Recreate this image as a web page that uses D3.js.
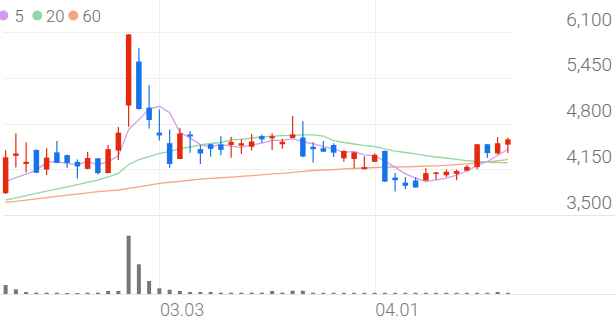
<!DOCTYPE html>
<html>
<head>
<meta charset="utf-8">
<script src="https://cdn.jsdelivr.net/npm/d3@7"></script>
<style>
  html, body { margin: 0; padding: 0; background: #fff; }
  #chart { width: 616px; height: 321px; }
  svg { display: block; font-family: Roboto, "Noto Sans", sans-serif; }
</style>
</head>
<body>
<div id="chart"></div>
<script>
// Trading days shown
const dates = [
  "02.10", "02.11", "02.12", "02.13", "02.14",
  "02.17", "02.18", "02.19", "02.20", "02.21",
  "02.24", "02.25", "02.26", "02.27", "02.28",
  "03.03", "03.04", "03.05", "03.06", "03.07",
  "03.10", "03.11", "03.12", "03.13", "03.14",
  "03.17", "03.18", "03.19", "03.20", "03.21",
  "03.24", "03.25", "03.26", "03.27", "03.28",
  "03.31", "04.01", "04.02", "04.03", "04.04",
  "04.07", "04.08", "04.09", "04.10", "04.11",
  "04.14", "04.15", "04.16", "04.17", "04.18"
];

const openPrices = [
  3810, 4340, 4225, 4425, 4145, 4390, 4350, 4255, 4155, 4305,
  4095, 4415, 5055, 5680, 5025, 4670, 4520, 4295, 4645, 4435,
  4505, 4500, 4495, 4485, 4470, 4620, 4590, 4505, 4595, 4600,
  4470, 4450, 4495, 4305, 4295, 4150, 4255, 4410, 4030, 3960,
  3990, 3990, 4085, 4065, 4085, 4130, 4180, 4505, 4375, 4500
];
const highPrices = [
  4420, 4660, 4535, 4430, 4450, 4550, 4360, 4290, 4400, 4310,
  4495, 4750, 6070, 5870, 5345, 5000, 4715, 4740, 4695, 4495,
  4510, 4620, 4610, 4575, 4650, 4645, 4660, 4585, 4905, 4835,
  4535, 4550, 4520, 4415, 4395, 4335, 4375, 4415, 4095, 4040,
  4035, 4165, 4110, 4145, 4145, 4210, 4510, 4510, 4605, 4600
];
const lowPrices = [
  3800, 4175, 4105, 4095, 4070, 4235, 4170, 4020, 4150, 4075,
  4095, 4280, 4755, 5000, 4730, 4560, 4170, 4295, 4385, 4225,
  4330, 4350, 4315, 4365, 4415, 4525, 4425, 4440, 4595, 4325,
  4245, 4395, 4325, 4255, 4165, 4150, 4255, 3970, 3835, 3870,
  3890, 3985, 4000, 4040, 3995, 4130, 4150, 4310, 4360, 4380
];
const closePrices = [
  4320, 4375, 4255, 4100, 4315, 4240, 4240, 4190, 4310, 4095,
  4435, 4670, 6065, 5005, 4850, 4630, 4225, 4660, 4615, 4375,
  4440, 4425, 4540, 4520, 4545, 4575, 4620, 4540, 4645, 4330,
  4435, 4400, 4385, 4410, 4390, 4180, 4355, 3975, 3995, 3915,
  3890, 4095, 4105, 4115, 4125, 4185, 4505, 4380, 4520, 4575
];

// Volume, thousand shares
const volumes = [
  900, 470, 200, 130, 130, 130, 100, 100, 130, 130,
  300, 300, 5830, 2970, 1300, 570, 430, 300, 200, 200,
  200, 130, 130, 130, 130, 130, 300, 130, 330, 330,
  130, 120, 120, 120, 120, 120, 120, 120, 120, 120,
  120, 120, 120, 120, 120, 120, 120, 120, 200, 120
];

// Moving averages
const ma5 = [
  3975, 4030, 4080, 4135, 4250, 4260, 4230, 4215, 4260, 4215,
  4255, 4340, 4715, 4855, 5005, 5045, 4955, 4675, 4595, 4500,
  4465, 4505, 4480, 4460, 4495, 4520, 4560, 4560, 4585, 4540,
  4515, 4470, 4440, 4390, 4405, 4355, 4345, 4260, 4180, 4085,
  4025, 3975, 4000, 4025, 4065, 4125, 4205, 4260, 4345, 4435
];
const ma20 = [
  3713, 3744, 3776, 3807, 3838, 3869, 3901, 3932, 3963, 3994,
  4040, 4090, 4217, 4286, 4331, 4377, 4399, 4445, 4466, 4495,
  4516, 4530, 4566, 4573, 4594, 4608, 4622, 4627, 4632, 4637,
  4637, 4622, 4558, 4530, 4509, 4487, 4473, 4438, 4409, 4388,
  4367, 4345, 4324, 4310, 4291, 4274, 4260, 4253, 4246, 4243
];
const ma60 = [
  3678, 3695, 3712, 3729, 3746, 3764, 3781, 3798, 3815, 3832,
  3844, 3855, 3879, 3901, 3926, 3950, 3965, 3979, 3994, 4009,
  4020, 4029, 4038, 4048, 4060, 4071, 4083, 4092, 4105, 4119,
  4132, 4139, 4146, 4154, 4161, 4168, 4175, 4179, 4182, 4185,
  4189, 4193, 4199, 4206, 4215, 4225, 4239, 4253, 4270, 4289
];

const priceTicks = [3500, 4150, 4800, 5450, 6100];
const dateTicks = ["03.03", "04.01"];
const legendLabels = ["5", "20", "60"];

class CandleChart
{
  constructor(iHostElement)
  {
    this.width = 616;
    this.height = 321;
    this.upColor = "#e42a0c";
    this.downColor = "#1673ec";
    this.maColors = ["#d59cee", "#90d9a2", "#f8a680"];

    this.svg = d3.select(iHostElement)
      .append("svg")
      .attr("width", this.width)
      .attr("height", this.height);

    // Scales
    this.x = d3.scaleBand().domain(dates).range([0.5, 513]).padding(0);
    this.y = d3.scaleLinear().domain([3500, 6100]).range([215, 32]);
    this.yVol = d3.scaleLinear().domain([0, 6000]).range([294, 234]);

    this.rows = dates.map((d, i) => ({
      date: d, open: openPrices[i], high: highPrices[i], low: lowPrices[i],
      close: closePrices[i], volume: volumes[i]
    }));
  }

  cx(d) { return this.x(d) + this.x.bandwidth() / 2; }

  drawGrid()
  {
    const g = this.svg.append("g").attr("class", "grid");

    g.selectAll(".hline").data(priceTicks).enter()
      .append("line")
      .attr("x1", 3)
      .attr("x2", d => d === priceTicks[0] ? this.width : 513)
      .attr("y1", d => Math.round(this.y(d)) + 0.5)
      .attr("y2", d => Math.round(this.y(d)) + 0.5)
      .attr("stroke", d => d === priceTicks[0] ? "#e6e6e6" : "#efefef")
      .attr("stroke-width", 1);

    g.selectAll(".vline").data(dateTicks).enter()
      .append("line")
      .attr("x1", d => Math.round(this.cx(d)) + 0.5)
      .attr("x2", d => Math.round(this.cx(d)) + 0.5)
      .attr("y1", 0)
      .attr("y2", 294)
      .attr("stroke", "#f0f0f0");

    // Volume baseline
    g.append("line")
      .attr("x1", 0).attr("x2", this.width)
      .attr("y1", 294.5).attr("y2", 294.5)
      .attr("stroke", "#e6e6e6");

    // Price labels
    this.svg.append("g").selectAll("text").data(priceTicks).enter()
      .append("text")
      .attr("x", 612)
      .attr("y", d => this.y(d) - 6.5)
      .attr("text-anchor", "end")
      .attr("font-size", 19)
      .attr("font-weight", 300)
      .attr("fill", "#6f6f6f")
      .text(d => d3.format(",")(d));

    // Date labels
    this.svg.append("g").selectAll("text").data(dateTicks).enter()
      .append("text")
      .attr("x", d => this.cx(d) + 0.5)
      .attr("y", 316)
      .attr("font-size", 18)
      .attr("font-weight", 300)
      .attr("fill", "#7a7a7a")
      .text(d => d);
  }

  drawVolume()
  {
    const w = 4;
    this.svg.append("g").attr("class", "volume")
      .selectAll("rect").data(this.rows).enter()
      .append("rect")
      .attr("x", d => this.cx(d.date) - w / 2)
      .attr("width", w)
      .attr("y", d => this.yVol(d.volume))
      .attr("height", d => 294 - this.yVol(d.volume))
      .attr("fill", "#777");
  }

  drawAverages()
  {
    const series = [ma5, ma20, ma60];
    const line = d3.line()
      .x((v, i) => this.cx(dates[i]))
      .y(v => this.y(v));

    const g = this.svg.append("g").attr("class", "averages");
    series.slice().reverse().forEach((s, k) => {
      g.append("path")
        .datum(s)
        .attr("d", line)
        .attr("fill", "none")
        .attr("stroke", this.maColors[series.length - 1 - k])
        .attr("stroke-width", 1.3);
    });
  }

  drawCandles()
  {
    const bodyW = 5.5;
    const color = d => d.close >= d.open ? this.upColor : this.downColor;
    const candles = this.svg.append("g").attr("class", "candles")
      .selectAll("g").data(this.rows).enter()
      .append("g");

    candles.append("line")
      .attr("x1", d => this.cx(d.date))
      .attr("x2", d => this.cx(d.date))
      .attr("y1", d => this.y(d.high))
      .attr("y2", d => this.y(d.low))
      .attr("stroke", color)
      .attr("stroke-width", 1.2);

    candles.append("rect")
      .attr("x", d => this.cx(d.date) - bodyW / 2)
      .attr("width", bodyW)
      .attr("y", d => this.y(Math.max(d.open, d.close)))
      .attr("height", d => Math.max(1.5, Math.abs(this.y(d.open) - this.y(d.close))))
      .attr("fill", color);
  }

  drawLegend()
  {
    const items = [
      { label: legendLabels[0], cx: 3.3, tx: 14.5 },
      { label: legendLabels[1], cx: 37.3, tx: 46 },
      { label: legendLabels[2], cx: 73.3, tx: 82.5 }
    ];
    const g = this.svg.append("g").attr("class", "legend");
    items.forEach((it, i) => {
      g.append("circle")
        .attr("cx", it.cx).attr("cy", 15.5).attr("r", 5)
        .attr("fill", this.maColors[i]);
      g.append("text")
        .attr("x", it.tx).attr("y", 21.5)
        .attr("font-size", 16.5)
        .attr("font-weight", 300)
        .attr("fill", "#666")
        .text(it.label);
    });
  }
}

const chart = new CandleChart(document.getElementById("chart"));
chart.drawGrid();
chart.drawVolume();
chart.drawAverages();
chart.drawCandles();
chart.drawLegend();
</script>
</body>
</html>
